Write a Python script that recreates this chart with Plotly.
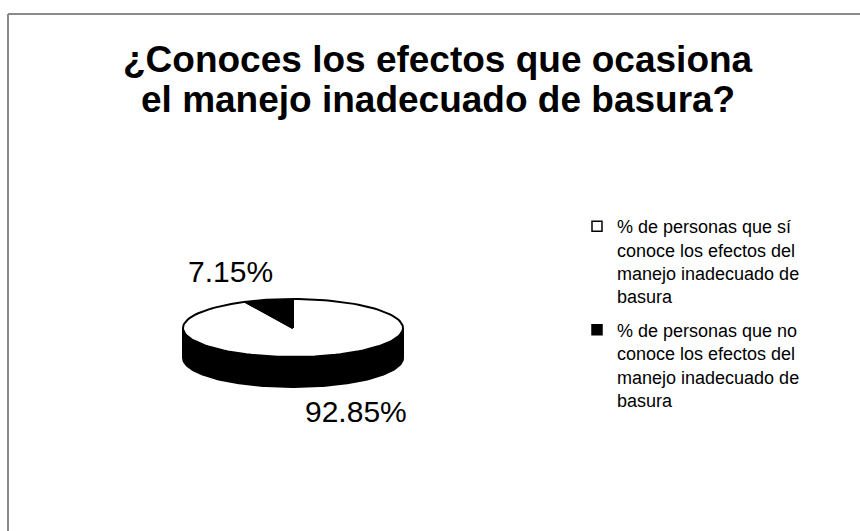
import numpy as np
import plotly.graph_objects as go

# Survey answers (percent of respondents)
labels = [
    "% de personas que sí<br>conoce los efectos del<br>manejo inadecuado de<br>basura",
    "% de personas que no<br>conoce los efectos del<br>manejo inadecuado de<br>basura",
]
values = [92.85, 7.15]
top_colors = ["white", "black"]
side_colors = ["black", "black"]
title_lines = ["¿Conoces los efectos que ocasiona", "el manejo inadecuado de basura?"]

FONT = "Liberation Sans, Arial, Helvetica, sans-serif"
W, H = 860, 531

# Pie geometry in page pixels (axes are mapped 1:1 onto the page)
CX, CY, RX, RY, DEPTH = 293, 328, 110, 29, 30


def ellipse_pts(frac0, frac1, dy=0.0, n=120):
    """Points on the top ellipse for fractions measured clockwise from 12 o'clock."""
    f = np.linspace(frac0, frac1, n)
    th = np.deg2rad(90 - 360 * f)
    return CX + RX * np.cos(th), CY - RY * np.sin(th) + dy


fig = go.Figure()

total = sum(values)
fracs = np.cumsum([0] + values) / total

# side walls (only the front half, fractions 0.25..0.75, is visible)
for i in range(len(values)):
    a, b = max(fracs[i], 0.25), min(fracs[i + 1], 0.75)
    if b <= a:
        continue
    xt, yt = ellipse_pts(a, b)
    xb, yb = ellipse_pts(a, b, dy=DEPTH)
    xs = np.concatenate([xt, xb[::-1], xt[:1]])
    ys = np.concatenate([yt, yb[::-1], yt[:1]])
    fig.add_trace(go.Scatter(
        x=xs, y=ys, mode="lines", fill="toself", fillcolor=side_colors[i],
        line=dict(color="black", width=2), hoverinfo="skip", showlegend=False,
    ))

# top faces of the slices
for i in range(len(values)):
    xa, ya = ellipse_pts(fracs[i], fracs[i + 1])
    xs = np.concatenate([[CX], xa, [CX]])
    ys = np.concatenate([[CY], ya, [CY]])
    fig.add_trace(go.Scatter(
        x=xs, y=ys, mode="lines", fill="toself", fillcolor=top_colors[i],
        line=dict(color="black", width=2), hoverinfo="skip", showlegend=False,
    ))

# legend entries
for i, name in enumerate(labels):
    fig.add_trace(go.Scatter(
        x=[None], y=[None], mode="markers", name=name, legendgroup=str(i),
        marker=dict(symbol="square", size=10, color=top_colors[i],
                    line=dict(color="black", width=1.5)),
    ))

# percentage labels
label_pos = [(356, 411), (230, 271)]
for v, (lx, ly) in zip(values, label_pos):
    fig.add_annotation(x=lx, y=ly, text=f"{v:.2f}%", showarrow=False,
                       xanchor="center", yanchor="middle",
                       font=dict(family=FONT, size=30, color="black"))

# two-line title
for txt, ty in zip(title_lines, [59, 99]):
    fig.add_annotation(x=438, y=ty, text=f"<b>{txt}</b>", showarrow=False,
                       xanchor="center", yanchor="middle",
                       font=dict(family=FONT, size=37, color="black"))

# chart frame (top and left edges)
frame = dict(color="#8a8a8a", width=2)
fig.add_shape(type="line", x0=8, y0=14, x1=W, y1=14, line=frame)
fig.add_shape(type="line", x0=8, y0=14, x1=8, y1=H, line=frame)

fig.update_layout(
    width=W, height=H, autosize=False,
    margin=dict(l=0, r=0, t=0, b=0),
    paper_bgcolor="white", plot_bgcolor="white",
    xaxis=dict(range=[0, W], visible=False, fixedrange=True),
    yaxis=dict(range=[H, 0], visible=False, fixedrange=True),
    legend=dict(x=577 / W, y=1 - 208 / H, xanchor="left", yanchor="top",
                valign="top", tracegroupgap=7,
                font=dict(family=FONT, size=18, color="black"),
                bgcolor="rgba(0,0,0,0)"),
    showlegend=True,
)

fig.write_html("out.html")
